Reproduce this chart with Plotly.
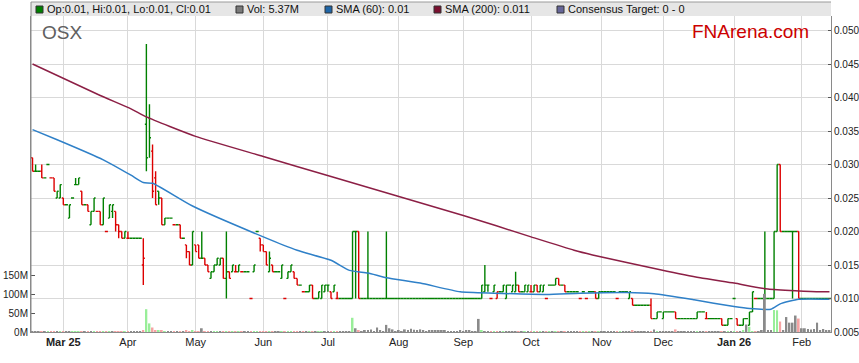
import pandas as pd
import plotly.graph_objects as go

# ---------------- data ----------------
DATES = pd.bdate_range("2025-02-17", "2026-02-13").strftime("%Y-%m-%d").tolist()

# prices in thousandths of a dollar
OPEN = [
    31, 29, 29, 29, 28, 30, 28, 28, 25, 25,
    25, 24, 22, 25, 27, 27, 26, 24, 24, 21,
    23, 23, 23, 21, 20, 22, 23, 23, 21, 20,
    19, 19, 19, 19, 19, 19, 15, 36, 37, 32,
    28, 26, 25, 21, 22, 22, 21, 21, 21, 19,
    18, 17, 15, 18, 18, 16, 16, 15, 13, 14,
    15, 15, 16, 13, 14, 14, 14, 14, 14, 14,
    14, 10, 14, 20, 19, 18, 17, 14, 15, 14,
    14, 13, 10, 13, 14, 14, 13, 12, 11, 11,
    11, 12, 10, 10, 10, 11, 12, 11, 11, 10,
    10, 10, 10, 10, 10, 20, 20, 10, 10, 10,
    10, 10, 10, 10, 10, 10, 10, 10, 10, 10,
    10, 10, 10, 10, 10, 10, 10, 10, 10, 10,
    10, 10, 10, 10, 10, 10, 10, 10, 10, 10,
    10, 10, 10, 10, 10, 10, 10, 11, 12, 10,
    11, 10, 11, 11, 10, 12, 11, 11, 12, 11,
    11, 11, 11, 11, 12, 11, 11, 10, 12, 12,
    12, 13, 12, 12, 11, 11, 11, 11, 10, 11,
    10, 11, 11, 11, 10, 11, 11, 11, 11, 11,
    10, 11, 11, 11, 10, 10, 9, 9, 9, 9,
    9, 9, 7, 7, 8, 7, 8, 8, 8, 8,
    7, 7, 7, 7, 7, 7, 7, 8, 8, 7,
    7, 7, 7, 7, 7, 6, 6, 7, 10, 7,
    6, 6, 7, 6, 8, 10, 10, 10, 10, 10,
    10, 10, 20, 30, 20, 20, 20, 20, 20, 20,
    10, 10, 10, 10, 10, 10, 10, 10, 10, 10,
]
HIGH = [
    31, 30, 29, 30, 28, 30, 28, 28, 26, 27,
    25, 24, 24, 25, 28, 28, 26, 24, 24, 23,
    25, 23, 23, 25, 20, 24, 24, 23, 21, 20,
    20, 20, 19, 19, 19, 19, 19, 48, 39, 33,
    29, 26, 25, 22, 22, 22, 21, 21, 21, 19,
    18, 17, 20, 18, 18, 20, 16, 15, 14, 15,
    16, 16, 16, 20, 14, 15, 15, 15, 14, 14,
    14, 10, 15, 20, 19, 18, 17, 17, 15, 14,
    14, 15, 10, 14, 15, 14, 13, 12, 11, 11,
    12, 12, 10, 11, 12, 12, 12, 11, 12, 11,
    10, 10, 10, 10, 20, 20, 20, 10, 10, 20,
    10, 10, 10, 10, 10, 20, 10, 10, 10, 10,
    10, 10, 10, 10, 10, 10, 10, 10, 10, 10,
    10, 10, 10, 10, 10, 10, 10, 10, 10, 10,
    10, 10, 10, 10, 10, 10, 12, 15, 12, 10,
    12, 11, 11, 12, 12, 12, 12, 14, 12, 11,
    12, 12, 12, 12, 12, 12, 12, 10, 12, 12,
    13, 13, 12, 12, 11, 11, 11, 11, 10, 11,
    10, 11, 11, 11, 11, 11, 11, 11, 11, 11,
    10, 11, 11, 11, 11, 10, 9, 9, 9, 9,
    9, 10, 7, 8, 8, 8, 8, 8, 8, 8,
    7, 7, 7, 7, 7, 7, 8, 8, 8, 8,
    7, 7, 7, 7, 7, 6, 7, 7, 10, 7,
    6, 7, 7, 8, 11, 10, 10, 10, 20, 10,
    10, 20, 30, 30, 20, 20, 20, 20, 20, 20,
    10, 10, 10, 10, 10, 10, 10, 10, 10, 10,
]
LOW = [
    29, 29, 29, 28, 28, 30, 28, 26, 25, 25,
    24, 24, 22, 25, 27, 27, 24, 24, 23, 21,
    23, 23, 21, 21, 20, 22, 22, 20, 19, 19,
    19, 19, 19, 19, 19, 19, 12, 29, 31, 25,
    24, 24, 21, 21, 22, 22, 21, 21, 19, 19,
    16, 15, 15, 17, 16, 16, 15, 14, 13, 14,
    15, 15, 13, 10, 13, 14, 14, 14, 14, 14,
    14, 10, 14, 20, 17, 17, 15, 14, 14, 14,
    14, 13, 10, 13, 14, 13, 12, 12, 11, 11,
    11, 10, 10, 10, 10, 11, 11, 10, 11, 10,
    10, 10, 10, 10, 10, 10, 10, 10, 10, 10,
    10, 10, 10, 10, 10, 10, 10, 10, 10, 10,
    10, 10, 10, 10, 10, 10, 10, 10, 10, 10,
    10, 10, 10, 10, 10, 10, 10, 10, 10, 10,
    10, 10, 10, 10, 10, 10, 10, 11, 11, 10,
    11, 10, 11, 11, 10, 12, 11, 11, 11, 11,
    11, 11, 11, 11, 11, 11, 11, 10, 12, 12,
    12, 12, 12, 11, 11, 11, 11, 11, 10, 11,
    10, 11, 11, 10, 10, 11, 11, 11, 11, 11,
    10, 11, 11, 11, 10, 9, 9, 9, 9, 9,
    9, 7, 7, 7, 8, 7, 8, 8, 8, 7,
    7, 7, 7, 7, 7, 7, 7, 8, 8, 7,
    7, 7, 7, 7, 6, 6, 6, 7, 10, 6,
    6, 6, 7, 6, 8, 10, 10, 10, 10, 10,
    10, 10, 20, 20, 20, 20, 20, 10, 20, 10,
    10, 10, 10, 10, 10, 10, 10, 10, 10, 10,
]
CLOSE = [
    29, 29, 29, 28, 28, 30, 28, 26, 26, 27,
    24, 24, 24, 25, 27, 28, 24, 24, 23, 23,
    25, 23, 21, 25, 20, 24, 24, 21, 20, 19,
    20, 19, 19, 19, 19, 19, 16, 31, 34, 26,
    24, 25, 21, 22, 22, 22, 21, 21, 19, 19,
    17, 15, 20, 17, 16, 16, 15, 14, 14, 15,
    16, 16, 13, 14, 13, 15, 14, 15, 14, 14,
    14, 10, 15, 20, 18, 17, 15, 16, 14, 14,
    14, 15, 10, 14, 15, 13, 12, 12, 11, 11,
    12, 10, 10, 11, 12, 12, 12, 10, 12, 10,
    10, 10, 10, 10, 20, 20, 10, 10, 10, 10,
    10, 10, 10, 10, 10, 10, 10, 10, 10, 10,
    10, 10, 10, 10, 10, 10, 10, 10, 10, 10,
    10, 10, 10, 10, 10, 10, 10, 10, 10, 10,
    10, 10, 10, 10, 10, 10, 12, 12, 12, 10,
    12, 11, 11, 12, 12, 12, 12, 12, 11, 11,
    12, 12, 11, 12, 11, 12, 12, 10, 12, 12,
    13, 12, 12, 11, 11, 11, 11, 11, 10, 11,
    10, 11, 11, 10, 11, 11, 11, 11, 11, 11,
    10, 11, 11, 11, 11, 9, 9, 9, 9, 9,
    9, 7, 7, 8, 8, 8, 8, 8, 8, 7,
    7, 7, 7, 7, 7, 7, 8, 8, 8, 7,
    7, 7, 7, 7, 6, 6, 7, 7, 10, 6,
    6, 7, 7, 8, 11, 10, 10, 10, 10, 10,
    10, 20, 30, 20, 20, 20, 20, 20, 20, 10,
    10, 10, 10, 10, 10, 10, 10, 10, 10, 10,
]
# volume in millions of shares
VOLUME_M = [
    0.8, 0.5, 0.2, 0.6, 0.3, 0.4, 0.5, 0.6, 0.4, 0.5,
    0.5, 0.2, 0.6, 0.3, 0.5, 0.4, 0.7, 0.2, 0.5, 0.6,
    0.4, 0.3, 0.5, 0.2, 0.3, 0.5, 0.4, 0.7, 0.6, 0.5,
    0.4, 0.5, 0.2, 0.2, 0.2, 0.3, 5, 61, 23, 12,
    4, 3, 3, 2, 1, 1.5, 1.5, 0.5, 2, 0.5,
    3, 1, 3, 1, 0.8, 10, 2, 2, 0.8, 1.5,
    0.5, 0.5, 2, 1, 0.5, 0.5, 0.5, 0.5, 0.2, 1.5,
    0.3, 0.5, 1.5, 1.5, 0.5, 1.5, 0.5, 1.5, 0.5, 0.3,
    0.3, 0.5, 0.5, 1.5, 2, 0.5, 0.5, 0.3, 0.5, 0.5,
    0.5, 2, 0.5, 1.5, 0.5, 0.5, 0.5, 0.5, 0.5, 1.5,
    0.5, 0.3, 0.3, 0.5, 38, 10, 5, 2, 5, 3,
    7, 2, 12, 5, 2, 19, 10, 7, 2, 5,
    2, 7, 5, 9, 6, 5, 7, 5, 1, 5,
    5, 4, 5, 3, 5, 1, 0.5, 0.5, 2, 3,
    2, 3, 3, 0.5, 0.5, 35, 5, 1, 0.5, 1.5,
    0.5, 0.5, 1.5, 0.5, 0.5, 0.5, 2, 0.5, 0.5, 0.5,
    0.5, 1.5, 0.5, 0.5, 0.5, 0.5, 0.5, 0.5, 0.5, 0.5,
    0.5, 0.5, 0.5, 0.5, 0.5, 0.5, 1.5, 0.3, 0.3, 0.3,
    0.3, 0.3, 0.3, 0.3, 0.3, 1.5, 0.3, 1.5, 1.5, 0.3,
    0.3, 0.3, 0.3, 0.3, 2, 4, 0.3, 0.3, 0.3, 1.5,
    2, 2, 7, 0.3, 2, 0.3, 0.3, 1.5, 0.3, 7,
    2, 2, 2, 1.5, 0.3, 0.3, 0.3, 0.3, 0.3, 0.3,
    0.3, 0.3, 0.3, 0.3, 0.3, 0.3, 0.3, 0.3, 0.5, 0.5,
    0.3, 3, 20, 14, 2, 2, 2, 3, 102, 5,
    3, 59, 58, 28, 5, 40, 25, 25, 44, 36,
    10, 10, 8, 7, 8, 25, 5, 8, 5, 3,
]

# moving averages (day index -> value)
SMA60_IDX = [0, 8, 23, 32, 36, 39, 52, 75, 86, 97, 103, 109, 115, 126, 139, 150,
             167, 178, 193, 202, 215, 228, 233, 240, 243, 249, 259]
SMA60_VAL = [0.0352, 0.0337, 0.0307, 0.0284, 0.0273, 0.0272, 0.0238, 0.0192, 0.0172,
             0.0157, 0.0142, 0.0138, 0.0131, 0.0123, 0.0110, 0.0108, 0.0106, 0.0108,
             0.0109, 0.0107, 0.0098, 0.0088, 0.0085, 0.0084, 0.0092, 0.0099, 0.0099]
SMA200_IDX = [0, 22, 32, 37, 53, 75, 97, 140, 162, 176, 182, 204, 217, 228, 239, 256, 259]
SMA200_VAL = [0.0450, 0.0403, 0.0383, 0.0371, 0.0342, 0.0312, 0.0282, 0.0224, 0.0192,
              0.0172, 0.0165, 0.0143, 0.0131, 0.0123, 0.0114, 0.0110, 0.0110]

MONTH_TICKS = ["2025-03-03", "2025-04-01", "2025-05-01", "2025-06-02", "2025-07-01",
               "2025-08-01", "2025-09-01", "2025-10-01", "2025-11-03", "2025-12-01",
               "2026-01-01", "2026-02-02"]
MONTH_LABELS = ["<b>Mar 25</b>", "Apr", "May", "Jun", "Jul", "Aug", "Sep", "Oct",
                "Nov", "Dec", "<b>Jan 26</b>", "Feb"]

PRICE_TICKS = [0.005, 0.010, 0.015, 0.020, 0.025, 0.030, 0.035, 0.040, 0.045, 0.050]
VOL_TICKS = [0, 50e6, 100e6, 150e6]
VOL_LABELS = ["0M", "50M", "100M", "150M"]

LEGEND = [("#008000", "Op:0.01, Hi:0.01, Lo:0.01, Cl:0.01", 36),
          ("#7a7a7a", "Vol: 5.37M", 236),
          ("#1f66a8", "SMA (60): 0.01", 325),
          ("#7a1030", "SMA (200): 0.011", 434),
          ("#666699", "Consensus Target: 0 - 0", 557)]

assert len(DATES) == len(OPEN) == len(HIGH) == len(LOW) == len(CLOSE) == len(VOLUME_M)

# ---------------- derived ----------------
o = [v / 1000 for v in OPEN]
h = [v / 1000 for v in HIGH]
l = [v / 1000 for v in LOW]
c = [v / 1000 for v in CLOSE]

up = []
vol_col = []
for i in range(len(c)):
    prev = c[i - 1] if i else o[i]
    up.append(c[i] >= prev)
    if i and c[i] > prev:
        vol_col.append("#99ee99")
    elif i and c[i] < prev:
        vol_col.append("#f5a3a3")
    else:
        vol_col.append("#8a8a8a")

GREEN = "#008000"
RED = "#dd0000"

fig = go.Figure()

fig.add_trace(go.Bar(
    x=DATES, y=[v * 1e6 for v in VOLUME_M], marker=dict(color=vol_col, line=dict(width=0)),
    yaxis="y2", width=0.6, showlegend=False, hoverinfo="skip"))

for flag, col in ((True, GREEN), (False, RED)):
    idx = [i for i in range(len(c)) if up[i] == flag]
    fig.add_trace(go.Ohlc(
        x=[DATES[i] for i in idx], open=[o[i] for i in idx], high=[h[i] for i in idx],
        low=[l[i] for i in idx], close=[c[i] for i in idx],
        increasing=dict(line=dict(color=col, width=1.4)),
        decreasing=dict(line=dict(color=col, width=1.4)),
        tickwidth=0.5, showlegend=False, hoverinfo="skip"))

fig.add_trace(go.Scatter(
    x=[DATES[i] for i in SMA200_IDX], y=SMA200_VAL, mode="lines",
    line=dict(color="#8c1f45", width=1.5, shape="spline", smoothing=0.5),
    showlegend=False, hoverinfo="skip"))
fig.add_trace(go.Scatter(
    x=[DATES[i] for i in SMA60_IDX], y=SMA60_VAL, mode="lines",
    line=dict(color="#2f80c8", width=1.5, shape="spline", smoothing=0.5),
    showlegend=False, hoverinfo="skip"))

L_M, R_M, T_M, B_M = 31, 28, 16, 31
W, H = 859, 363
PW, PH = W - L_M - R_M, H - T_M - B_M


def px(xp):
    return (xp - L_M) / PW


def py(yp):
    return (H - B_M - yp) / PH


shapes = [
    dict(type="rect", xref="paper", yref="paper", x0=0, x1=1, y0=1, y1=py(2),
         fillcolor="#e6e6e6", line=dict(width=0), layer="above"),
    dict(type="line", xref="paper", yref="paper", x0=0, x1=1, y0=py(2), y1=py(2),
         line=dict(color="#9a9a9a", width=1)),
    dict(type="line", xref="paper", yref="paper", x0=0, x1=0, y0=0, y1=py(2),
         line=dict(color="#8a8a8a", width=1)),
]
annotations = []
for col, txt, x0 in LEGEND:
    shapes.append(dict(type="rect", xref="paper", yref="paper", x0=px(x0), x1=px(x0 + 7),
                       y0=py(13), y1=py(6), fillcolor=col, line=dict(color="#333333", width=1)))
    annotations.append(dict(xref="paper", yref="paper", x=px(x0 + 9), y=py(9.5),
                            xanchor="left", yanchor="middle", text=txt, showarrow=False,
                            font=dict(family="Liberation Sans, Arial", size=11, color="#111111")))

annotations.append(dict(xref="paper", yref="paper", x=px(40), y=py(32), xanchor="left",
                        yanchor="middle", text="OSX", showarrow=False,
                        font=dict(family="Liberation Sans, Arial", size=19, color="#606060")))
annotations.append(dict(xref="paper", yref="paper", x=px(690), y=py(31), xanchor="left",
                        yanchor="middle", text="FNArena.com", showarrow=False,
                        font=dict(family="Liberation Sans, Arial", size=19, color="#cc0000")))

fig.update_layout(
    width=W, height=H, margin=dict(l=L_M, r=R_M, t=T_M, b=B_M, autoexpand=False),
    paper_bgcolor="white", plot_bgcolor="white",
    font=dict(family="Liberation Sans, Arial", size=11, color="#222222"),
    bargap=0.3,
    shapes=shapes, annotations=annotations,
    xaxis=dict(type="category", categoryorder="array", categoryarray=DATES,
               range=[-0.5, len(DATES) - 0.5], rangeslider=dict(visible=False),
               tickmode="array", tickvals=MONTH_TICKS, ticktext=MONTH_LABELS,
               showgrid=True, gridcolor="#d9d9d9", gridwidth=1, automargin=False,
               showline=True, linecolor="#8a8a8a", ticks="", tickfont=dict(size=11, color="#222"),
               zeroline=False),
    yaxis=dict(side="right", range=[0.005, 0.005 + PH * 0.005 / 33.5],
               tickmode="array", tickvals=PRICE_TICKS, tickformat=".3f", automargin=False,
               showgrid=True, gridcolor="#d9d9d9", gridwidth=1,
               showline=True, linecolor="#8a8a8a", ticks="inside", ticklen=3,
               tickcolor="#555555", tickfont=dict(size=10, color="#222"), zeroline=False),
    yaxis2=dict(side="left", overlaying="y", range=[0, PH / 18.7 * 50e6], automargin=False,
                tickmode="array", tickvals=VOL_TICKS, ticktext=VOL_LABELS,
                showgrid=False, showline=True, linecolor="#8a8a8a", ticks="inside",
                ticklen=4, tickcolor="#555555", tickfont=dict(size=10, color="#222"),
                zeroline=False),
)

fig.write_html("out.html", config={"displayModeBar": False},
               post_script="document.body.style.margin='0';document.body.style.overflow='hidden';")
